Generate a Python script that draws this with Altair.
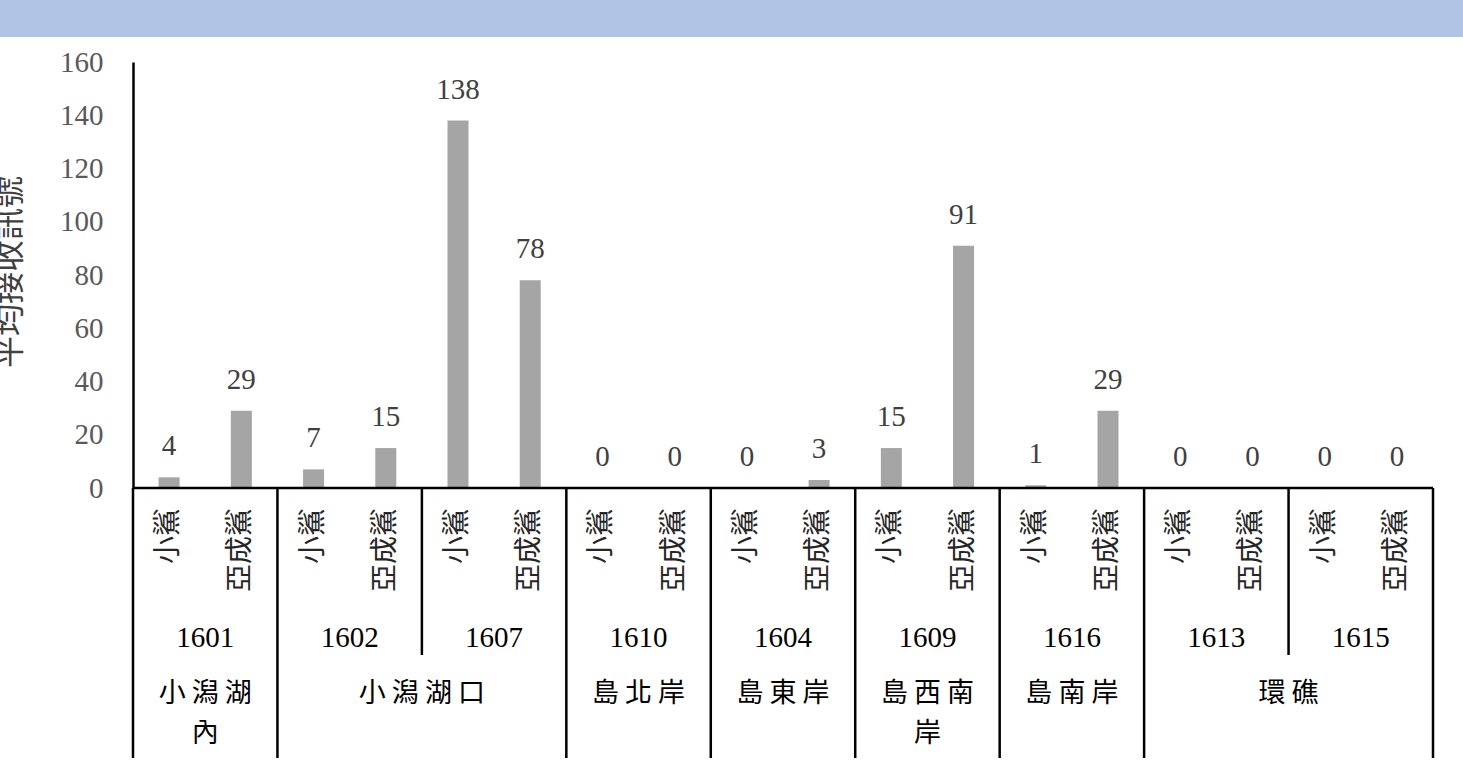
import altair as alt
import pandas as pd

# Receiver stations in display order, with the area each one belongs to
stations = ["1601", "1602", "1607", "1610", "1604", "1609", "1616", "1613", "1615"]
regions = ["小潟湖內", "小潟湖口", "小潟湖口", "島北岸", "島東岸", "島西南岸", "島南岸", "環礁", "環礁"]
stages = ["小鯊", "亞成鯊"]

# Mean received detections per station
juvenile = [4, 7, 138, 0, 0, 15, 1, 0, 0]
subadult = [29, 15, 78, 0, 3, 91, 29, 0, 0]

y_ticks = [0, 20, 40, 60, 80, 100, 120, 140, 160]
y_title = "平均接收訊號"

W, H = 1300, 426
N_SLOTS = 2 * len(stations)
SERIF = "Liberation Serif"
CJK = "Noto Sans CJK TC"

# One row per bar; each station occupies two slots on the x scale
bar_rows = []
for k, st in enumerate(stations):
    for j, val in enumerate((juvenile[k], subadult[k])):
        bar_rows.append({"station": st, "stage": stages[j], "value": val,
                         "pos": 2 * k + j + 0.5})
bars = pd.DataFrame(bar_rows)

station_df = pd.DataFrame({"station": stations,
                           "pos": [2 * k + 1 for k in range(len(stations))]})

# Collapse consecutive stations of the same area into one label
region_rows = []
start = 0
for k in range(1, len(stations) + 1):
    if k == len(stations) or regions[k] != regions[start]:
        name = regions[start]
        span = k - start
        lines = [name[:3], name[3:]] if (span == 1 and len(name) > 3) else [name]
        text = "\n".join(" ".join(line) for line in lines)
        region_rows.append({"label": text, "pos": start + k})
        start = k
region_df = pd.DataFrame(region_rows)

# Vertical dividers below the axis: long ones between areas, short ones between stations
sep_rows = []
for b in range(len(stations) + 1):
    long_line = b == 0 or b == len(stations) or regions[b - 1] != regions[b]
    sep_rows.append({"bx": 2 * b, "long": long_line})
sep_df = pd.DataFrame(sep_rows)

xs = alt.Scale(domain=[0, N_SLOTS], nice=False, zero=False, padding=0)
ys = alt.Scale(domain=[0, 160], nice=False)

y_axis = alt.Axis(values=y_ticks, title=None, grid=False, ticks=False,
                  labelFont=SERIF, labelFontSize=29, labelColor="#595959",
                  labelPadding=30, domainColor="black", domainWidth=2.5)

bar_layer = alt.Chart(bars).mark_bar(size=21, color="#A5A5A5").encode(
    x=alt.X("pos:Q", scale=xs, axis=None),
    y=alt.Y("value:Q", scale=ys, axis=y_axis),
)

value_layer = alt.Chart(bars).mark_text(
    font=SERIF, fontSize=29, color="#404040", baseline="alphabetic", dy=-22
).encode(
    x=alt.X("pos:Q", scale=xs, axis=None),
    y=alt.Y("value:Q", scale=ys, axis=y_axis),
    text="value:Q",
)

baseline_layer = alt.Chart(pd.DataFrame({"a": [0], "b": [N_SLOTS]})).mark_rule(
    color="black", strokeWidth=2.5
).encode(
    x=alt.X("a:Q", scale=xs, axis=None), x2="b:Q", y=alt.value(H)
)

long_sep = alt.Chart(sep_df).transform_filter("datum.long").mark_rule(
    color="black", strokeWidth=2.5
).encode(x=alt.X("bx:Q", scale=xs, axis=None), y=alt.value(H), y2=alt.value(696))

short_sep = alt.Chart(sep_df).transform_filter("!datum.long").mark_rule(
    color="black", strokeWidth=2.5
).encode(x=alt.X("bx:Q", scale=xs, axis=None), y=alt.value(H), y2=alt.value(593))

stage_layer = alt.Chart(bars).mark_text(
    font=CJK, fontSize=28, color="#262626", angle=270, align="right", baseline="middle"
).encode(
    x=alt.X("pos:Q", scale=xs, axis=None), y=alt.value(446), text="stage:N"
)

station_layer = alt.Chart(station_df).mark_text(
    font=SERIF, fontSize=29, color="black", baseline="middle"
).encode(
    x=alt.X("pos:Q", scale=xs, axis=None), y=alt.value(576), text="station:N"
)

region_layer = alt.Chart(region_df).mark_text(
    font=CJK, fontSize=27, color="black", baseline="top", lineBreak="\n", lineHeight=40
).encode(
    x=alt.X("pos:Q", scale=xs, axis=None), y=alt.value(619), text="label:N"
)

title_layer = alt.Chart(pd.DataFrame({"t": [y_title]})).mark_text(
    font=CJK, fontSize=32, color="#404040", angle=270, align="center", baseline="middle"
).encode(x=alt.value(-123), y=alt.value(210), text="t:N")

band_layer = alt.Chart(pd.DataFrame({"k": [0]})).mark_rect(color="#B0C5E6").encode(
    x=alt.value(-133), x2=alt.value(W + 30), y=alt.value(-62), y2=alt.value(-25)
)

chart = alt.layer(
    band_layer, bar_layer, value_layer, baseline_layer, long_sep, short_sep,
    stage_layer, station_layer, region_layer, title_layer
).properties(
    width=W, height=H,
    autosize=alt.AutoSizeParams(type="none"),
    padding={"left": 133, "top": 62, "right": 30, "bottom": 279},
    background="white",
).configure_view(stroke=None)

chart.save("out.html", embed_options={"renderer": "svg", "actions": False})
